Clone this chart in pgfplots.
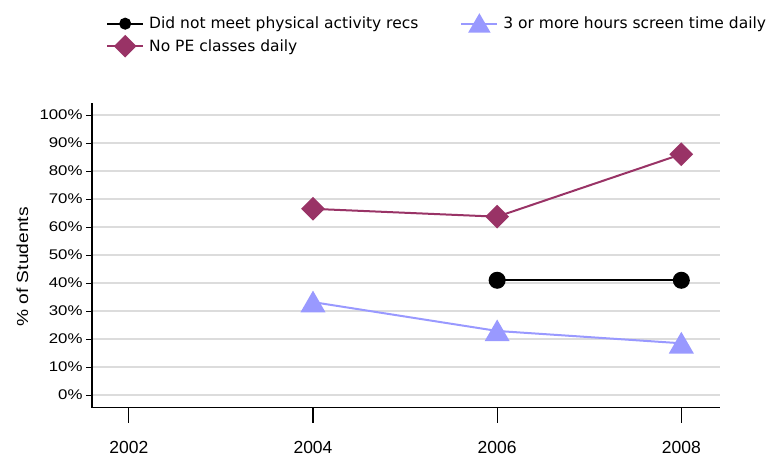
\documentclass[border=0pt]{standalone}
\usepackage{fontspec}
\setmainfont{Liberation Sans}
\newfontfamily\ytfont[FakeStretch=1.2]{Liberation Sans}
\newfontfamily\legfont{DejaVu Sans}
\usepackage{pgfplots}
\pgfplotsset{compat=1.18}
\definecolor{plum}{HTML}{993366}
\definecolor{lav}{HTML}{9999FF}
\definecolor{gridc}{HTML}{DCDCDC}
\pgfplotsset{
  base/.style={
    at={(92bp,50.3bp)}, anchor=south west,
    scale only axis, width=628bp, height=305bp,
    xmin=2001.6, xmax=2008.42, ymin=-4.5, ymax=104.4,
  }
}
\begin{document}
\begin{tikzpicture}
\path (0bp,0bp) rectangle (771bp,458bp);
% x axis ticks and labels
\begin{axis}[base,
  axis x line*=bottom, axis y line=none,
  axis line style={draw=none},
  tick align=outside,
  major tick length=15bp,
  xtick style={line width=1.3bp, black},
  xtick={2002,2004,2006,2008},
  xticklabels={2002,2004,2006,2008},
  ytick=\empty,
  x tick label style={font=\fontsize{17.5bp}{20bp}\selectfont, yshift=-15bp},
]
\end{axis}
\begin{axis}[base,
  axis lines=left, axis line style={-, line width=1.2bp},
  tick align=outside,
  major tick length=6bp,
  ytick style={line width=1bp, black},
  xtick=\empty,
  ytick={0,10,...,100},
  yticklabels={0\%,10\%,20\%,30\%,40\%,50\%,60\%,70\%,80\%,90\%,100\%},
  y tick label style={font=\ytfont\fontsize{14bp}{16bp}\selectfont},
  ymajorgrids, grid style={gridc, line width=1.2bp},
  ylabel={\% of Students},
  ylabel style={font=\ytfont\fontsize{16bp}{18bp}\selectfont, at={(axis description cs:-0.111,0.461)}, anchor=center},
  legend columns=2,
  legend cell align=left,
  legend style={draw=none, fill=none, inner sep=0pt, at={(0.0223,1.288)}, anchor=north west,
    font=\legfont\fontsize{15.5bp}{18bp}\selectfont, row sep=4bp,
    /tikz/every even column/.append style={column sep=40bp}},
  legend image code/.code={\draw[mark repeat=2, mark phase=2] plot coordinates {(0bp,0bp)(18bp,0bp)(36bp,0bp)}; \path (39bp,0bp);},
]
\addlegendimage{black, line width=2bp, mark=*, mark size=5bp}
\addlegendentry{Did not meet physical activity recs}
\addlegendimage{lav, line width=2bp, mark=triangle*, mark size=11bp, mark options={yshift=-2.5bp}}
\addlegendentry{3 or more hours screen time daily}
\addlegendimage{plum, line width=2bp, mark=square*, mark size=7bp, mark options={rotate=45}}
\addlegendentry{No PE classes daily}
\addplot[forget plot, color=black, line width=2bp, mark=*, mark size=7.5bp] coordinates {(2006,41)(2008,41)};
\addplot[forget plot, color=lav, line width=2bp, mark=triangle*, mark size=12.5bp, mark options={yshift=-3bp}] coordinates {(2004,33.2)(2006,22.9)(2008,18.5)};
\addplot[forget plot, color=plum, line width=2bp, mark=square*, mark size=7.4bp, mark options={rotate=45}] coordinates {(2004,66.5)(2006,63.7)(2008,86)};
\end{axis}
\end{tikzpicture}
\end{document}
